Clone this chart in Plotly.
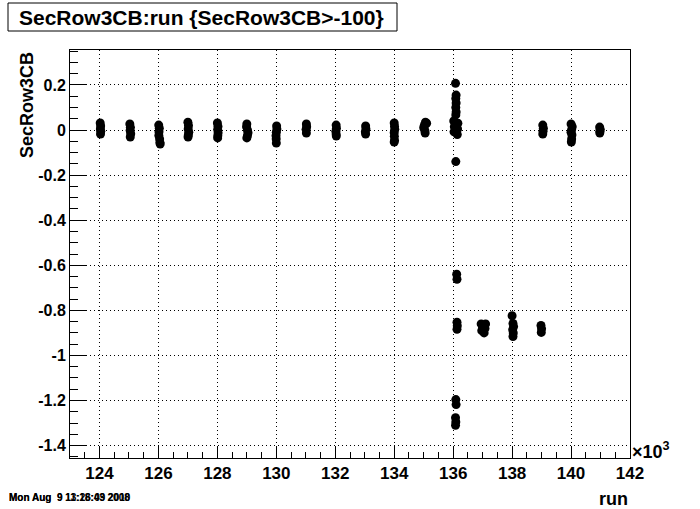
import plotly.graph_objects as go

# ---- data: (run, SecRow3CB) points ----
runs = [
    124025, 124040, 124030, 124045, 124035,
    125030, 125050, 125040, 125060, 125045,
    126010, 126030, 126020, 126015, 126040, 126050, 126060,
    127000, 127020, 127010, 127030, 127015, 127005,
    128000, 128020, 128010, 128025, 128015, 128010,
    129000, 128990, 129020, 129040, 129020, 129000,
    130010, 130020, 130000, 129990, 129995, 130000,
    131020, 131030, 131010, 131020,
    132030, 132040, 132020, 132030, 132035,
    133030, 133040, 133020, 133030,
    134000, 134010, 134020, 134000, 134005, 134010, 134000,
    135000, 135100, 135060, 135040, 135050, 135020,
    136080, 136100, 136090, 136100, 136090, 136100, 136090, 136020, 136160, 136040, 136150, 136030, 136140, 136090,
    136120, 136130, 136130, 136140, 136130, 136090, 136100, 136080, 136090, 136080,
    136950, 137100, 137000, 137080, 136970, 137050, 137020,
    138000, 138030, 138050, 138020, 138040, 138030,
    138980, 139000, 138990,
    139040, 139060, 139050, 139040,
    140000, 140040, 140020, 140000, 140030, 140020, 140010,
    140970, 140990, 140980, 140975,
]
values = [
    0.031, 0.018, 0.005, -0.006, -0.018,
    0.027, 0.012, -0.002, -0.016, -0.031,
    0.022, 0.008, -0.008, -0.024, -0.040, -0.055, -0.062,
    0.035, 0.020, 0.005, -0.010, -0.022, -0.031,
    0.031, 0.016, 0.002, -0.012, -0.025, -0.035,
    0.027, 0.014, 0.000, -0.012, -0.025, -0.035,
    0.018, 0.004, -0.010, -0.025, -0.040, -0.058,
    0.027, 0.015, 0.003, -0.013,
    0.022, 0.008, -0.006, -0.018, -0.027,
    0.018, 0.005, -0.008, -0.018,
    0.031, 0.017, 0.003, -0.012, -0.028, -0.045, -0.053,
    0.010, 0.030, 0.035, -0.002, -0.013, 0.020,
    0.207, 0.155, 0.140, 0.120, 0.100, 0.080, 0.067, 0.040, 0.030, 0.015, 0.005, -0.008, -0.020, -0.140,
    -0.640, -0.662, -0.853, -0.868, -0.884, -1.196, -1.218, -1.276, -1.295, -1.310,
    -0.860, -0.860, -0.875, -0.880, -0.890, -0.900, -0.868,
    -0.824, -0.858, -0.872, -0.886, -0.900, -0.916,
    -0.867, -0.882, -0.898,
    0.022, 0.008, -0.005, -0.018,
    0.027, 0.015, 0.002, -0.010, -0.022, -0.040, -0.053,
    0.013, 0.003, -0.006, -0.013,
]

x_tick_vals = [124000, 126000, 128000, 130000, 132000, 134000, 136000, 138000, 140000, 142000]
x_tick_text = ["124", "126", "128", "130", "132", "134", "136", "138", "140", "142"]
y_tick_vals = [0.2, 0.0, -0.2, -0.4, -0.6, -0.8, -1.0, -1.2, -1.4]
y_tick_text = ["0.2", "0", "-0.2", "-0.4", "-0.6", "-0.8", "-1", "-1.2", "-1.4"]

title_text = "SecRow3CB:run {SecRow3CB>-100}"
x_title = "run"
y_title = "SecRow3CB"

FONT = "Liberation Sans"

fig = go.Figure()
fig.add_trace(go.Scatter(
    x=runs, y=values, mode="markers",
    marker=dict(color="black", size=9, line=dict(width=0)),
    showlegend=False, hoverinfo="x+y",
))

grid_dash = "1px,3px"
fig.update_layout(
    width=700, height=509,
    margin=dict(l=70, r=70, t=50, b=51),
    paper_bgcolor="white", plot_bgcolor="white",
    font=dict(family=FONT, color="black"),
    xaxis=dict(
        range=[123000, 142000],
        tickmode="array", tickvals=x_tick_vals, ticktext=x_tick_text,
        ticks="inside", ticklen=12, tickwidth=1, tickcolor="black",
        tickfont=dict(family=FONT, size=17, weight="bold", color="black"),
        showgrid=True, gridcolor="black", gridwidth=1, griddash=grid_dash,
        showline=True, linecolor="black", linewidth=1, mirror=True,
        zeroline=False,
        minor=dict(tickmode="linear", tick0=123000, dtick=500, ticks="inside",
                   ticklen=6, tickcolor="black", showgrid=False),
    ),
    yaxis=dict(
        range=[-1.455, 0.355],
        tickmode="array", tickvals=y_tick_vals, ticktext=y_tick_text,
        ticks="inside", ticklen=16, tickwidth=1, tickcolor="black",
        tickfont=dict(family=FONT, size=16, weight="bold", color="black"),
        showgrid=True, gridcolor="black", gridwidth=1, griddash=grid_dash,
        showline=True, linecolor="black", linewidth=1, mirror=True,
        zeroline=False,
        minor=dict(tickmode="linear", tick0=0, dtick=0.05, ticks="inside",
                   ticklen=8, tickcolor="black", showgrid=False),
    ),
)

# title box
fig.add_shape(type="rect", xref="paper", yref="paper",
              x0=(8 - 70) / 560, x1=(397 - 70) / 560,
              y0=(458 - 31) / 408, y1=(458 - 3) / 408,
              line=dict(color="black", width=1), fillcolor="white", layer="above")
fig.add_annotation(text=title_text, xref="paper", yref="paper",
                   x=(201 - 70) / 560, y=(458 - 17) / 408,
                   xanchor="center", yanchor="middle", showarrow=False,
                   font=dict(family=FONT, size=21, weight="bold", color="black"))

# axis titles
fig.add_annotation(text=y_title, xref="paper", yref="paper",
                   x=(27 - 70) / 560, y=(458 - 105) / 408, textangle=-90,
                   xanchor="center", yanchor="middle", showarrow=False,
                   font=dict(family=FONT, size=18, weight="bold", color="black"))
fig.add_annotation(text=x_title, xref="paper", yref="paper",
                   x=1.0, y=(458 - 499) / 408,
                   xanchor="right", yanchor="middle", showarrow=False,
                   font=dict(family=FONT, size=18, weight="bold", color="black"))
fig.add_annotation(text="\u00d710<sup>3</sup>", xref="paper", yref="paper",
                   x=(630 - 70) / 560, y=(458 - 450) / 408,
                   xanchor="left", yanchor="middle", showarrow=False,
                   font=dict(family=FONT, size=18, weight="bold", color="black"))

# date stamps (overlapping, as in the original)
for stamp in ["Mon Aug\u00a0\u00a09 13:26:09 2010", "Mon Aug\u00a0\u00a09 11:18:43 2008"]:
    fig.add_annotation(text=stamp, xref="paper", yref="paper",
                       x=(7 - 70) / 560, y=(458 - 497) / 408,
                       xanchor="left", yanchor="middle", showarrow=False,
                       font=dict(family=FONT, size=10, weight="bold", color="black"))

fig.write_html("out.html",
               config={"displayModeBar": False},
               post_script="document.body.style.margin='0';document.body.style.padding='0';")
